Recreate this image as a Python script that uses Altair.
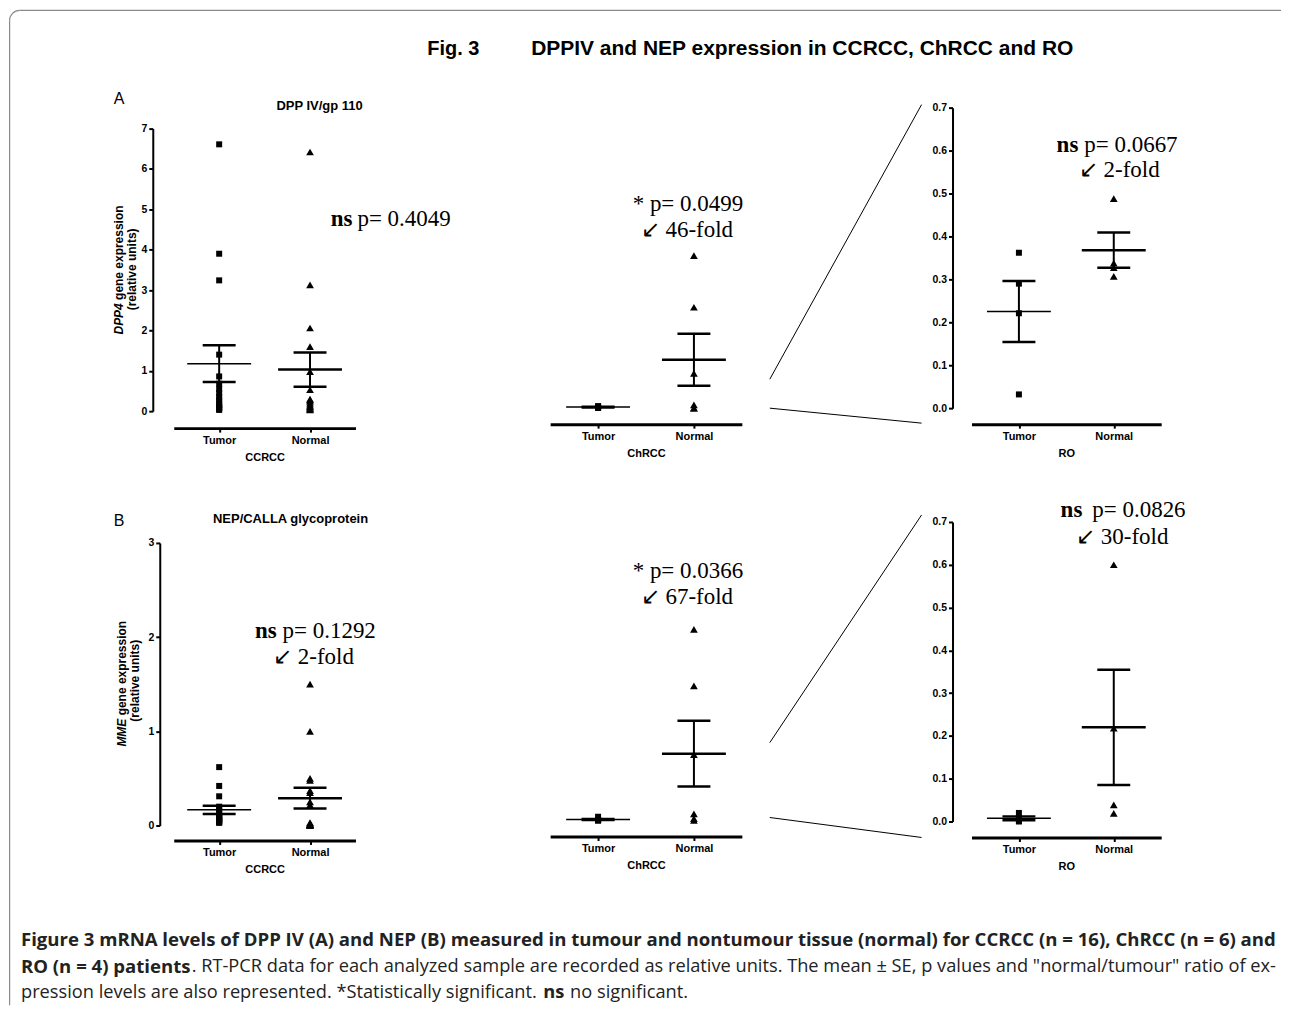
import altair as alt
import pandas as pd

GROUPS = ["Tumor", "Normal"]

# ---------------- Panel A : DPP4 (relative units) ----------------
A_CCRCC_TUMOR = [6.61, 3.90, 3.24, 1.40, 0.86, 0.68, 0.55, 0.45, 0.35, 0.28, 0.20, 0.15, 0.10, 0.08, 0.05, 0.03]
A_CCRCC_NORMAL = [6.42, 3.13, 2.06, 1.60, 0.98, 0.53, 0.30, 0.28, 0.25, 0.20, 0.15, 0.12, 0.10, 0.07, 0.05, 0.03]
A_CCRCC_MEAN = [1.175, 1.03]
A_CCRCC_SE = [0.455, 0.425]

A_CHRCC_TUMOR = [0.05, 0.04, 0.03, 0.02, 0.01, 0.005]
A_CHRCC_NORMAL = [3.78, 2.50, 0.86, 0.08, 0.0, 0.0]
A_CHRCC_MEAN = [0.026, 1.20]
A_CHRCC_SE = [0.007, 0.645]

A_RO_TUMOR = [0.362, 0.290, 0.221, 0.032]
A_RO_NORMAL = [0.488, 0.338, 0.327, 0.307]
A_RO_MEAN = [0.225, 0.368]
A_RO_SE = [0.071, 0.041]

# ---------------- Panel B : MME (relative units) ----------------
B_CCRCC_TUMOR = [0.62, 0.42, 0.31, 0.20, 0.18, 0.15, 0.12, 0.10, 0.10, 0.08, 0.07, 0.06, 0.05, 0.04, 0.03, 0.03]
B_CCRCC_NORMAL = [1.50, 1.00, 0.50, 0.48, 0.37, 0.35, 0.25, 0.22, 0.03, 0.02, 0.01, 0.01, 0.01, 0.0, 0.0, 0.0]
B_CCRCC_MEAN = [0.166, 0.29]
B_CCRCC_SE = [0.045, 0.11]

B_CHRCC_TUMOR = [0.04, 0.01, 0.008, 0.005, 0.0, 0.0]
B_CHRCC_NORMAL = [2.03, 1.43, 0.70, 0.07, 0.02, 0.0]
B_CHRCC_MEAN = [0.0105, 0.71]
B_CHRCC_SE = [0.006, 0.35]

B_RO_TUMOR = [0.02, 0.008, 0.002, 0.0]
B_RO_NORMAL = [0.600, 0.218, 0.039, 0.019]
B_RO_MEAN = [0.0075, 0.22]
B_RO_SE = [0.0045, 0.1345]

TICKS_A = [0, 1, 2, 3, 4, 5, 6, 7]
TICKS_B = [0, 1, 2, 3]
TICKS_RO = [0.0, 0.1, 0.2, 0.3, 0.4, 0.5, 0.6, 0.7]

SANS = "Liberation Sans"
SERIF = "Liberation Serif"
CAP = "Open Sans"
CAPBOLD = 18.6
CAPREG = 18.25
CAPCOL = "#222222"


def txt(text, px, py, origin, size=11, font=SANS, weight="normal", style="normal",
        align="center", baseline="middle", angle=0, color="black"):
    ox, oy = origin
    return alt.Chart(pd.DataFrame({"t": [text]})).mark_text(
        text=text, fontSize=size, font=font, fontWeight=weight, fontStyle=style,
        align=align, baseline=baseline, angle=angle, color=color
    ).encode(x=alt.value(px - ox), y=alt.value(py - oy))


def seg(x1, y1, x2, y2, origin, color="black", width=1.0):
    ox, oy = origin
    return alt.Chart(pd.DataFrame({"a": [0]})).mark_rule(color=color, strokeWidth=width).encode(
        x=alt.value(x1 - ox), y=alt.value(y1 - oy), x2=alt.value(x2 - ox), y2=alt.value(y2 - oy))


def panel(tumor, normal, mean, se, ydom, yrng, xrng, w, h, ticks, fmt, xtitle,
          xoff, yoff, extras):
    pts = pd.DataFrame({"group": ["Tumor"] * len(tumor) + ["Normal"] * len(normal),
                        "v": tumor + normal})
    st = pd.DataFrame({"group": GROUPS, "v": mean,
                       "lo": [m - s for m, s in zip(mean, se)],
                       "hi": [m + s for m, s in zip(mean, se)]})
    xaxis = alt.Axis(title=xtitle, labelAngle=0, domainWidth=3, domainColor="black",
                     tickColor="black", tickWidth=2, tickSize=4, labelFont=SANS,
                     labelFontWeight="bold", labelFontSize=11, labelColor="black",
                     labelPadding=2, titleFont=SANS, titleFontWeight="bold",
                     titleFontSize=11, titleColor="black", titlePadding=6,
                     offset=xoff, grid=False)
    xenc = alt.X("group:N", sort=GROUPS,
                 scale=alt.Scale(type="point", domain=GROUPS, range=xrng, padding=0.5),
                 axis=xaxis)
    yscale = alt.Scale(domain=ydom, range=yrng, nice=False, zero=False)
    if ticks is None:
        yaxis = None
    else:
        yaxis = alt.Axis(title="", values=ticks, format=fmt, domainWidth=2,
                         domainColor="black", tickColor="black", tickWidth=2,
                         tickSize=4, labelFont=SANS, labelFontWeight="bold",
                         labelFontSize=10.5, labelColor="black", labelPadding=2,
                         offset=yoff, grid=False)

    def Y(field):
        return alt.Y(field, scale=yscale, axis=yaxis)

    points = alt.Chart(pts).mark_point(filled=True, opacity=1, color="black").encode(
        x=xenc, y=Y("v:Q"),
        shape=alt.Shape("group:N", scale=alt.Scale(domain=GROUPS, range=["square", "triangle-up"]), legend=None),
        size=alt.Size("group:N", scale=alt.Scale(domain=GROUPS, range=[36, 60]), legend=None),
    )
    mean_t = alt.Chart(st).transform_filter(alt.datum.group == "Tumor").mark_tick(
        orient="horizontal", size=64, thickness=1.5, color="black", opacity=1
    ).encode(x=xenc, y=Y("v:Q"))
    mean_n = alt.Chart(st).transform_filter(alt.datum.group == "Normal").mark_tick(
        orient="horizontal", size=64, thickness=2.5, color="black", opacity=1
    ).encode(x=xenc, y=Y("v:Q"))
    bar = alt.Chart(st).mark_rule(color="black", strokeWidth=2).encode(
        x=xenc, y=Y("lo:Q"), y2="hi:Q")
    cap_lo = alt.Chart(st).mark_tick(orient="horizontal", size=33, thickness=2.5,
                                     color="black", opacity=1).encode(x=xenc, y=Y("lo:Q"))
    cap_hi = alt.Chart(st).mark_tick(orient="horizontal", size=33, thickness=2.5,
                                     color="black", opacity=1).encode(x=xenc, y=Y("hi:Q"))
    return alt.layer(points, mean_t, mean_n, bar, cap_lo, cap_hi, *extras).properties(
        width=w, height=h)


OA1, OA2, OA3 = (173, 106), (550, 106), (972, 106)
OB1, OB2, OB3 = (173, 521), (550, 521), (972, 521)
FRAME = "#8a8a8a"

frame_arc = alt.Chart(pd.DataFrame({"a": [0]})).mark_arc(
    innerRadius=9.4, outerRadius=10.6, theta=4.712, theta2=6.283, color=FRAME
).encode(x=alt.value(18.6 - OA1[0]), y=alt.value(18.6 - OA1[1]))

extras_a1 = [
    seg(18.6, 8.6, 1282, 8.6, OA1, FRAME, 1.2),
    seg(8.6, 18.6, 8.6, 1005, OA1, FRAME, 1.2),
    frame_arc,
    txt("Fig. 3", 427, 47, OA1, size=20, weight="bold", align="left"),
    txt("DPPIV and NEP expression in CCRCC, ChRCC and RO", 1074, 47, OA1, size=21,
        weight="bold", align="right"),
    txt("A", 113, 97, OA1, size=16, align="left"),
    txt("DPP IV/gp 110", 319, 104, OA1, size=13, weight="bold"),
    txt("DPP4", 118, 301.9, OA1, size=12, weight="bold", style="italic", align="right", angle=270),
    txt("gene expression", 118, 298.6, OA1, size=12, weight="bold", align="left", angle=270),
    txt("(relative units)", 131, 268, OA1, size=12, weight="bold", angle=270),
    txt("ns", 352, 218, OA1, size=23, font=SERIF, weight="bold", align="right"),
    txt("p= 0.4049", 357, 218, OA1, size=23, font=SERIF, align="left"),
]
extras_a2 = [
    txt("* p= 0.0499", 688, 203, OA2, size=23, font=SERIF),
    txt("\u2199 46-fold", 687, 229, OA2, size=23, font=SERIF),
    seg(770, 378, 922, 103, OA2),
    seg(770, 407, 922, 422, OA2),
]
extras_a3 = [
    txt("ns", 1079, 143, OA3, size=23, font=SERIF, weight="bold", align="right"),
    txt("p= 0.0667", 1085, 143, OA3, size=23, font=SERIF, align="left"),
    txt("\u2199 2-fold", 1120, 168, OA3, size=23, font=SERIF),
]
extras_b1 = [
    txt("B", 113, 520, OB1, size=16, align="left"),
    txt("NEP/CALLA glycoprotein", 290, 518, OB1, size=13, weight="bold"),
    txt("MME", 121, 718, OB1, size=12, weight="bold", style="italic", align="right", angle=270),
    txt("gene expression", 121, 714.7, OB1, size=12, weight="bold", align="left", angle=270),
    txt("(relative units)", 134, 680, OB1, size=12, weight="bold", angle=270),
    txt("ns", 276, 630, OB1, size=23, font=SERIF, weight="bold", align="right"),
    txt("p= 0.1292", 282, 630, OB1, size=23, font=SERIF, align="left"),
    txt("\u2199 2-fold", 313, 656, OB1, size=23, font=SERIF),
    txt("Figure 3 mRNA levels of DPP IV (A) and NEP (B) measured in tumour and nontumour tissue (normal) for CCRCC (n = 16), ChRCC (n = 6) and",
        20, 940, OB1, size=CAPBOLD, font=CAP, weight="bold", align="left", color=CAPCOL),
    txt("RO (n = 4) patients", 20, 967, OB1, size=CAPBOLD, font=CAP, weight="bold", align="left", color=CAPCOL),
    txt(". RT-PCR data for each analyzed sample are recorded as relative units. The mean \u00b1 SE, p values and \"normal/tumour\" ratio of ex-",
        191, 967, OB1, size=CAPREG, font=CAP, align="left", color=CAPCOL),
    txt("pression levels are also represented. *Statistically significant.", 20, 993, OB1, size=CAPREG,
        font=CAP, align="left", color=CAPCOL),
    txt("ns", 543, 993, OB1, size=CAPREG, font=CAP, weight="bold", align="left", color=CAPCOL),
    txt("no significant.", 570, 993, OB1, size=CAPREG, font=CAP, align="left", color=CAPCOL),
]
extras_b2 = [
    txt("* p= 0.0366", 688, 570, OB2, size=23, font=SERIF),
    txt("\u2199 67-fold", 687, 596, OB2, size=23, font=SERIF),
    seg(770, 742, 922, 514, OB2),
    seg(770, 817, 922, 837, OB2),
]
extras_b3 = [
    txt("ns", 1083, 509, OB3, size=23, font=SERIF, weight="bold", align="right"),
    txt("p= 0.0826", 1093, 509, OB3, size=23, font=SERIF, align="left"),
    txt("\u2199 30-fold", 1123, 536, OB3, size=23, font=SERIF),
]

a1 = panel(A_CCRCC_TUMOR, A_CCRCC_NORMAL, A_CCRCC_MEAN, A_CCRCC_SE, [0, 7], [304, 21], [0, 182],
           377, 301, TICKS_A, "d", "CCRCC", 20, 21, extras_a1)
a2 = panel(A_CHRCC_TUMOR, A_CHRCC_NORMAL, A_CHRCC_MEAN, A_CHRCC_SE, [0, 7], [301, 18], [0, 192],
           422, 301, None, "d", "ChRCC", 16, 0, extras_a2)
a3 = panel(A_RO_TUMOR, A_RO_NORMAL, A_RO_MEAN, A_RO_SE, [0, 0.7], [301, 0], [0, 190],
           190, 301, TICKS_RO, ".1f", "RO", 16, 19, extras_a3)
b1 = panel(B_CCRCC_TUMOR, B_CCRCC_NORMAL, B_CCRCC_MEAN, B_CCRCC_SE, [0, 3], [304, 21], [0, 182],
           377, 300, TICKS_B, "d", "CCRCC", 19, 14, extras_b1)
b2 = panel(B_CHRCC_TUMOR, B_CHRCC_NORMAL, B_CHRCC_MEAN, B_CHRCC_SE, [0, 3], [299, 16], [0, 192],
           422, 300, None, "d", "ChRCC", 15, 0, extras_b2)
b3 = panel(B_RO_TUMOR, B_RO_NORMAL, B_RO_MEAN, B_RO_SE, [0, 0.7], [300, 0], [0, 190],
           190, 300, TICKS_RO, ".1f", "RO", 16, 19, extras_b3)

chart = alt.concat(a1, a2, a3, b1, b2, b3, columns=3,
                   spacing={"row": 114, "column": 0}, bounds="flush").properties(
    padding=0, background="white"
).configure_view(stroke="transparent").configure_axis(grid=False)

chart.save("out.html", embed_options={"renderer": "svg", "actions": False})
